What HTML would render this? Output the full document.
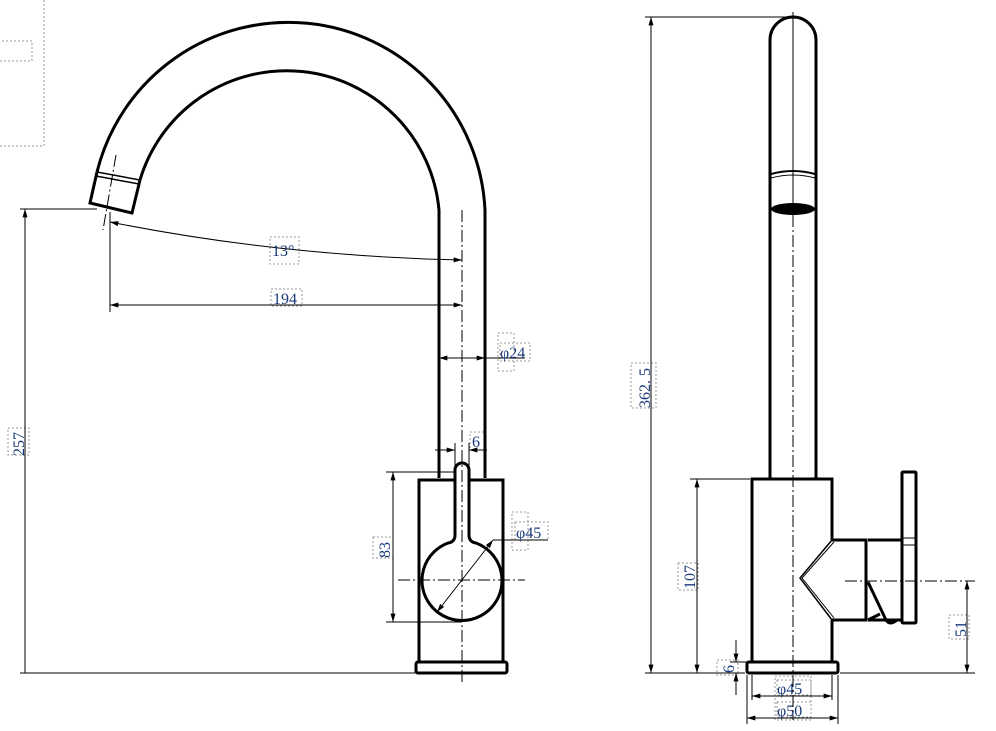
<!DOCTYPE html>
<html><head><meta charset="utf-8"><style>
html,body{margin:0;padding:0;background:#fff;}
svg{display:block;}
</style></head><body>
<svg width="996" height="731" viewBox="0 0 996 731" xmlns="http://www.w3.org/2000/svg">
<defs>
<marker id="a" viewBox="0 0 10 6" refX="10" refY="3" markerWidth="12" markerHeight="5" orient="auto-start-reverse" markerUnits="userSpaceOnUse"><path d="M0,0L10,3L0,6z" fill="#000"/></marker>
</defs>
<g fill="none" stroke="#999" stroke-dasharray="2,2" stroke-width="1">
<rect x="-2" y="41" width="34" height="20"/>
<path d="M44,0V146H0"/>
<rect x="270" y="237" width="29" height="27"/>
<rect x="271" y="289" width="31" height="17"/>
<rect x="498" y="333" width="16" height="38"/>
<rect x="500" y="343" width="30" height="18"/>
<rect x="470" y="432" width="14" height="18"/>
<rect x="512" y="512" width="16" height="38"/>
<rect x="515" y="522" width="33" height="18"/>
<rect x="373" y="537" width="20" height="21"/>
<rect x="8" y="428" width="21" height="27"/>
<rect x="631" y="363" width="25" height="45"/>
<rect x="678" y="563" width="20" height="27"/>
<rect x="717" y="660" width="21" height="15"/>
<rect x="775" y="676" width="36" height="44"/>
<rect x="777" y="680" width="34" height="15"/>
<rect x="777" y="702" width="34" height="15"/>
<rect x="949" y="615" width="20" height="24"/>
</g>
<g fill="none" stroke="#000" stroke-width="3">
<path d="M97,172 A197,197 0 0 1 485,210 V478"/>
<path d="M140,180 A153,153 0 0 1 439,210 V478"/>
<path d="M97,172 L90,203 L132,213 L140,180"/>
<path d="M419,662 V480 H455 V470 A7,7 0 0 1 469,470 V480 H503 V662"/>
<path d="M455,478 V535 Q455,542 448,543 A40,40 0 1 0 476,543 Q469,542 469,535 V478"/>
<rect x="416" y="662" width="91" height="11" rx="2"/>
</g>
<path d="M97,172 L140,180 M96,176 L139,184" stroke="#000" stroke-width="1.5"/>
<g stroke="#000" stroke-width="1" fill="none">
<path d="M462,210 V685" stroke-dasharray="12,3,2,3"/>
<path d="M398,580 H525" stroke-dasharray="12,3,2,3"/>
<path d="M116,155 L103,230" stroke-dasharray="12,3,2,3"/>
<path d="M20,209 H97 M20,673 H415"/>
<path d="M25,209 V673" marker-start="url(#a)"/>
<path d="M110,212 V312"/>
<path d="M110,305 H462" marker-start="url(#a)" marker-end="url(#a)"/>
<path d="M110,222 Q280,256 462,260" marker-start="url(#a)" marker-end="url(#a)"/>
<path d="M439,358 H485" marker-start="url(#a)" marker-end="url(#a)"/>
<path d="M485,358 H525"/>
<path d="M455,443 V472 M469,443 V472"/>
<path d="M435,450 H455" marker-end="url(#a)"/>
<path d="M469,450 H487" marker-start="url(#a)"/>
<path d="M386,472 H455 M386,622 H462"/>
<path d="M393,472 V622" marker-start="url(#a)" marker-end="url(#a)"/>
<path d="M437,612 L493,540" marker-start="url(#a)" marker-end="url(#a)"/>
<path d="M493,540 H548"/>
</g>
<g font-family="Liberation Serif, serif" font-size="16" fill="#1a3a7a">
<text x="272" y="256">13°</text>
<text x="273" y="304">194</text>
<text x="500" y="358">φ24</text>
<text x="472" y="447">6</text>
<text x="516" y="538">φ45</text>
<text transform="translate(390,558) rotate(-90)">83</text>
<text transform="translate(24,456) rotate(-90)">257</text>
<text x="777" y="694">φ45</text>
<text x="777" y="716">φ50</text>
<text transform="translate(650,408) rotate(-90)">362. 5</text>
<text transform="translate(695,589) rotate(-90)">107</text>
<text transform="translate(734,673) rotate(-90)">6</text>
<text transform="translate(966,637) rotate(-90)">51</text>
</g>
<g fill="none" stroke="#000" stroke-width="3">
<path d="M770,478 V40 A23,23 0 0 1 816,40 V478"/>
<path d="M752,662 V479 H832 V540 M832,620 V662"/>
<rect x="747" y="662" width="91" height="11" rx="2"/>
<path d="M832,540 H866 V620 H832"/>
<path d="M866,540 V620 M868,540 H903 M868,620 H903"/>
<rect x="902" y="472" width="14" height="151" rx="1"/>
<path d="M868,582 L886,620 Q890,626 897,620"/>
<path d="M868,620 L880,614"/>
</g>
<path d="M832,540 L800,578 L832,620" stroke="#000" stroke-width="1.5" fill="none"/>
<path d="M834,542 L802,578 L834,618" stroke="#000" stroke-width="1" fill="none"/>
<path d="M903,538 H916 M903,545 H916" stroke="#000" stroke-width="1"/>
<path d="M771,174 Q793,168 815,174" stroke="#000" stroke-width="2" fill="none"/>
<path d="M771,178 Q793,172 815,178" stroke="#000" stroke-width="1" fill="none"/>
<ellipse cx="793" cy="209" rx="22" ry="6" fill="#000"/>
<g stroke="#000" stroke-width="1" fill="none">
<path d="M793,12 V200"/>
<path d="M793,175 V720" stroke-dasharray="12,3,2,3"/>
<path d="M845,581 H975" stroke-dasharray="12,3,2,3"/>
<path d="M645,17 H793 M645,673 H745 M690,479 H750 M840,673 H975 M730,662 H747"/>
<path d="M651,17 V673" marker-start="url(#a)" marker-end="url(#a)"/>
<path d="M697,479 V673" marker-start="url(#a)" marker-end="url(#a)"/>
<path d="M967,581 V673" marker-start="url(#a)" marker-end="url(#a)"/>
<path d="M736,640 V662" marker-end="url(#a)"/>
<path d="M736,695 V673" marker-end="url(#a)"/>
<path d="M752,675 V700 M832,675 V700 M747,675 V724 M838,675 V724"/>
<path d="M752,696 H832" marker-start="url(#a)" marker-end="url(#a)"/>
<path d="M747,718 H838" marker-start="url(#a)" marker-end="url(#a)"/>
</g>
</svg>
</body></html>
